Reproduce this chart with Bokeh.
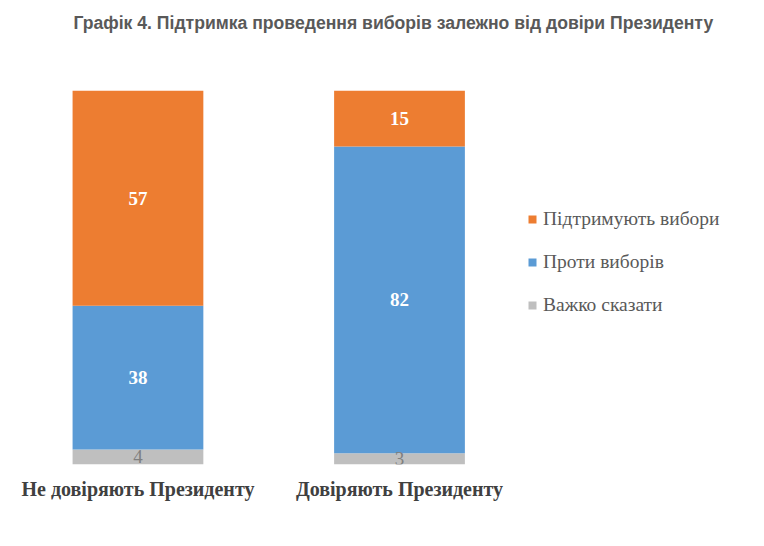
from bokeh.plotting import figure
from bokeh.models import ColumnDataSource, Legend, LegendItem, FixedTicker, Title
from bokeh.core.properties import value
from bokeh.embed import file_html
from bokeh.resources import INLINE

categories = ["Не довіряють Президенту", "Довіряють Президенту"]
series_names = ["Підтримують вибори", "Проти виборів", "Важко сказати"]
support = [57, 15]
against = [38, 82]
hard = [4, 3]
colors = {"Підтримують вибори": "#ED7D31", "Проти виборів": "#5B9BD5", "Важко сказати": "#BFBFBF"}
title_text = "Графік 4. Підтримка проведення виборів залежно від довіри Президенту"

xs = list(range(len(categories)))
totals = [h + a + s for h, a, s in zip(hard, against, support)]
# 100% stacked: each segment is a share of its bar's total
hard_pct = [100 * h / t for h, t in zip(hard, totals)]
against_pct = [100 * a / t for a, t in zip(against, totals)]
support_pct = [100 * s / t for s, t in zip(support, totals)]
src = ColumnDataSource(dict(x=xs, hard=hard_pct, against=against_pct, support=support_pct))

p = figure(width=756, height=538, x_range=(-0.495, 2.365), y_range=(0, 100),
           output_backend="svg", toolbar_location=None,
           min_border_left=8, min_border_right=0, min_border_top=90, min_border_bottom=74)
# spacer between title and plot area (nearest the frame), then the real title
p.add_layout(Title(text=" ", text_font_size="10px", standoff=45), "above")
p.add_layout(Title(text=title_text, align="left", text_font="Liberation Sans",
                   text_font_size="17.6px", text_font_style="bold", text_color="#595959",
                   standoff=0, offset=65), "above")

r = p.vbar_stack(["hard", "against", "support"], x="x", width=0.5, source=src,
                 color=[colors["Важко сказати"], colors["Проти виборів"], colors["Підтримують вибори"]],
                 line_color=None)

# segment labels (raw values, placed at the middle of each segment)
big_x, big_y, big_t, small_x, small_y, small_t = [], [], [], [], [], []
for i in xs:
    base = 0
    for k, (v, pv) in enumerate(((hard[i], hard_pct[i]), (against[i], against_pct[i]),
                                 (support[i], support_pct[i]))):
        if k == 0:
            small_x.append(i); small_y.append(base + pv / 2); small_t.append(str(v))
        else:
            big_x.append(i); big_y.append(base + pv / 2); big_t.append(str(v))
        base += pv
p.text(x=big_x, y=big_y, text=big_t, text_align="center", text_baseline="middle",
       text_font=value("Liberation Serif"), text_font_style="bold", text_font_size="19px",
       text_color="white")
p.text(x=small_x, y=small_y, text=small_t, text_align="center", text_baseline="middle",
       text_font=value("Liberation Serif"), text_font_size="19px", text_color="#7F7F7F")

# axes
p.yaxis.visible = False
p.xaxis.ticker = FixedTicker(ticks=xs)
p.xaxis.major_label_overrides = {i: c for i, c in zip(xs, categories)}
p.xaxis.axis_line_color = None
p.xaxis.major_tick_line_color = None
p.xaxis.minor_tick_line_color = None
p.xaxis.major_label_standoff = 7
p.xaxis.major_label_text_font = "Liberation Serif"
p.xaxis.major_label_text_font_style = "bold"
p.xaxis.major_label_text_font_size = "20px"
p.xaxis.major_label_text_color = "#404040"
p.xgrid.visible = False
p.ygrid.visible = False
p.outline_line_color = None

legend = Legend(items=[LegendItem(label=series_names[0], renderers=[r[2]]),
                       LegendItem(label=series_names[1], renderers=[r[1]]),
                       LegendItem(label=series_names[2], renderers=[r[0]])],
                location=(519, 148), orientation="vertical",
                glyph_width=10, glyph_height=10, label_standoff=6, spacing=21,
                padding=0, margin=0, border_line_color=None, background_fill_alpha=0,
                label_text_font="Liberation Serif", label_text_font_size="19.5px",
                label_text_color="#595959")
p.add_layout(legend)

open("out.html", "w").write(file_html(p, INLINE))
